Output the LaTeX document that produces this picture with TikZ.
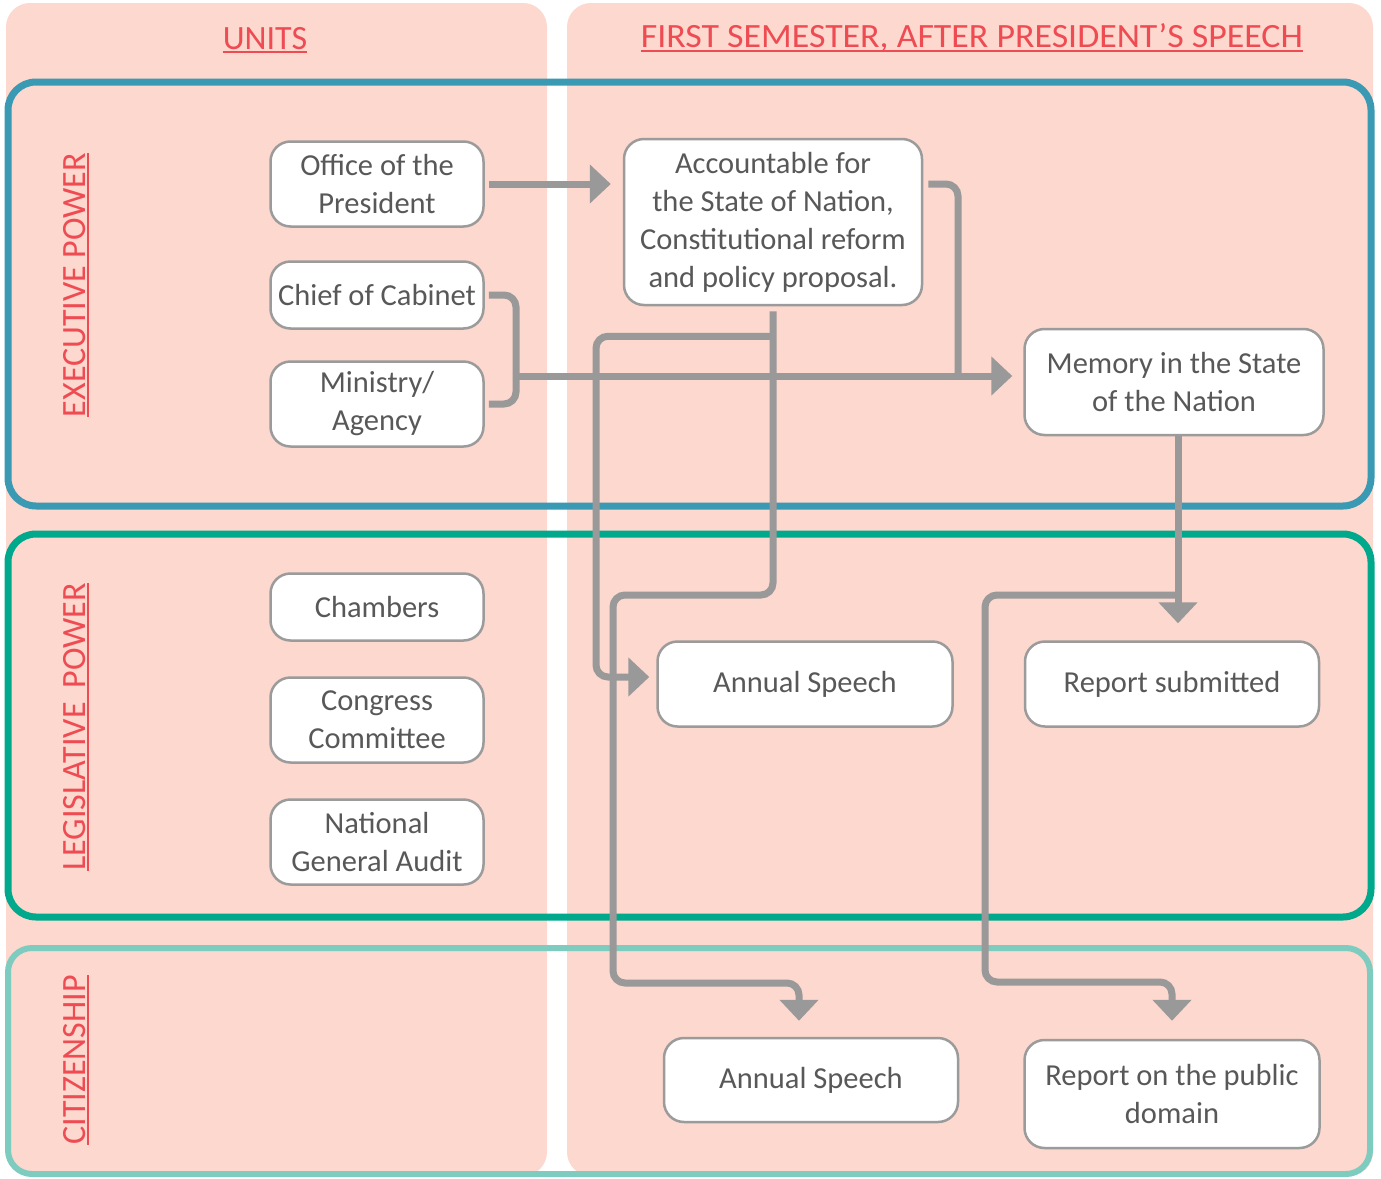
\documentclass[tikz,border=0pt]{standalone}
\usepackage{fontspec}
\setmainfont{Carlito}
\usetikzlibrary{arrows.meta}
\definecolor{pinkbg}{RGB}{252,216,206}
\definecolor{exblue}{RGB}{58,153,179}
\definecolor{leggreen}{RGB}{0,168,140}
\definecolor{citteal}{RGB}{126,204,191}
\definecolor{redtxt}{RGB}{238,75,83}
\definecolor{linegray}{RGB}{153,153,153}
\definecolor{boxgray}{RGB}{155,155,155}
\definecolor{txtgray}{RGB}{88,88,88}
\newcommand\nodefont{\fontsize{30.5pt}{38pt}\selectfont}
\newcommand\hdrfont{\fontsize{34pt}{40pt}\selectfont}
\newcommand\myul[1]{\sbox0{#1}\rlap{\usebox0}\rule[-4pt]{\wd0}{2pt}}
\tikzset{
  box/.style={draw=boxgray, line width=2.5pt, fill=white, rounded corners=20pt,
    text=txtgray, align=center, font=\nodefont, inner sep=0pt},
  conn/.style={draw=linegray, line width=7pt, rounded corners=12pt},
  arrowend/.style={-{Triangle[length=21pt,width=38pt]}},
  hdr/.style={text=redtxt, font=\hdrfont, inner sep=0pt},
  rowframe/.style={line width=7pt, rounded corners=28pt},
}
\begin{document}
\begin{tikzpicture}[x=1pt,y=-1pt]
\useasboundingbox (0,0) rectangle (1381,1178);
% columns
\fill[pinkbg, rounded corners=24pt] (6,3) rectangle (547,1176);
\fill[pinkbg, rounded corners=24pt] (567,3) rectangle (1373,1176);
% headers
\node[hdr] (hu) at (265,40) {\myul{UNITS}};
\node[hdr] (hf) at (972,38) {\myul{\scalebox{1.055}[1]{FIRST SEMESTER, AFTER PRESIDENT’S SPEECH}}};
% row frames
\draw[rowframe, draw=exblue] (8,82) rectangle (1371,506);
\draw[rowframe, draw=leggreen] (8,534) rectangle (1371,917);
\draw[rowframe, draw=citteal, line width=6pt, rounded corners=24pt] (8,948) rectangle (1370,1174);
% row labels
\node[hdr, rotate=90] (lex) at (76,285) {\myul{EXECUTIVE POWER}};
\node[hdr, rotate=90] (lleg) at (76,727) {\myul{LEGISLATIVE\hspace{6pt} POWER}};
\node[hdr, rotate=90] (lcit) at (76,1060) {\myul{CITIZENSHIP}};
% nodes
\node[box, minimum width=213pt, minimum height=85pt] (off) at (377,184) {Office of the\\President};
\node[box, minimum width=213pt, minimum height=67pt] (chief) at (377,295) {Chief of Cabinet};
\node[box, minimum width=213pt, minimum height=85pt] (min) at (377,404) {Ministry/\\Agency};
\node[box, minimum width=298pt, minimum height=166pt] (acc) at (773,222) {Accountable for\\the State of Nation,\\Constitutional reform\\and policy proposal.};
\node[box, minimum width=299pt, minimum height=106pt] (mem) at (1174,382) {Memory in the State\\of the Nation};
\node[box, minimum width=213pt, minimum height=67pt] (cham) at (377,607) {Chambers};
\node[box, minimum width=213pt, minimum height=85pt] (cong) at (377,720) {Congress\\Committee};
\node[box, minimum width=213pt, minimum height=85pt] (nga) at (377,842) {National\\General Audit};
\node[box, minimum width=295pt, minimum height=85pt] (as1) at (805,684) {Annual Speech};
\node[box, minimum width=294pt, minimum height=85pt] (rs) at (1172,684) {Report submitted};
\node[box, minimum width=294pt, minimum height=84pt] (as2) at (811,1080) {Annual Speech};
\node[box, minimum width=295pt, minimum height=108pt] (rp) at (1172,1094) {Report on the public\\domain};
% junction coordinates
\coordinate (brx) at (516,295);
\coordinate (j1) at (516,376);
\coordinate (j2) at (958,376);
\coordinate (j4) at (613,595);
\coordinate (j5) at (799,983);
\coordinate (j6) at (596,677);
\coordinate (j7) at (1178,595);
\coordinate (j8) at (985,982);
% connectors
\draw[conn, arrowend, shorten <=4pt, shorten >=12pt] (off.east) -- (off.east -| acc.west);
\draw[conn] ([xshift=4pt]chief.east) -| (brx |- min.east) -- ([xshift=4pt]min.east);
\draw[conn, arrowend, shorten >=11pt] (j1) -- (j1 -| mem.west);
\draw[conn] ([xshift=5pt,yshift=38pt]acc.east) -| (j2);
\draw[conn, arrowend, shorten >=16pt] ([yshift=-5pt]acc.south) |- (j4) |- (j5) -- (j5 |- as2.north);
\draw[conn, arrowend, shorten >=7pt] ([yshift=-30pt]acc.south) -| (j6) -- (j6 -| as1.west);
\draw[conn, arrowend, shorten >=17pt] ([xshift=4pt]mem.south) -- ([xshift=4pt]mem.south |- rs.north);
\draw[conn, arrowend, shorten >=18pt] (j7) -| (j8) -| (rp.north);
\end{tikzpicture}
\end{document}
